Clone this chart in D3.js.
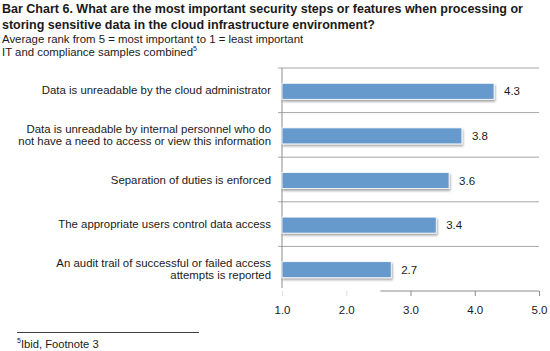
<!DOCTYPE html>
<html>
<head>
<meta charset="utf-8">
<script src="https://cdn.jsdelivr.net/npm/d3@7"></script>
<style>
  body { margin: 0; background: #fff; }
  svg { display: block; font-family: "Liberation Sans", Arial, sans-serif; }
  .title { font-size: 12.5px; font-weight: bold; fill: #1a1a1a; }
  .sub { font-size: 11.4px; fill: #1a1a1a; }
  .cat { font-size: 11.4px; fill: #1a1a1a; }
  .val { font-size: 11.5px; fill: #1a1a1a; }
  .tick text { font-size: 11.5px; fill: #1a1a1a; }
</style>
</head>
<body>
<div id="chart"></div>
<script>
const categories = [
  ['Data is unreadable by the cloud administrator'],
  ['Data is unreadable by internal personnel who do', 'not have a need to access or view this information'],
  ['Separation of duties is enforced'],
  ['The appropriate users control data access'],
  ['An audit trail of successful or failed access', 'attempts is reported']
]
const values = [4.3, 3.8, 3.6, 3.4, 2.7]
const xTicks = [1, 2, 3, 4, 5]

const width = 550, height = 351
const margin = {top: 68, left: 282, right: 11, bottom: 60}

const svg = d3.select('#chart').append('svg')
  .attr('width', width)
  .attr('height', height)

// titles
const titleLines = [
  'Bar Chart 6. What are the most important security steps or features when processing or',
  'storing sensitive data in the cloud infrastructure environment?'
]
svg.selectAll('.title').data(titleLines).join('text')
  .attr('class', 'title')
  .attr('x', 2)
  .attr('y', (_, i) => 13 + 16 * i)
  .text(d => d)

svg.append('text').attr('class', 'sub').attr('x', 2).attr('y', 43)
  .text('Average rank from 5 = most important to 1 = least important')
const sub2 = svg.append('text').attr('class', 'sub').attr('x', 2).attr('y', 56)
sub2.append('tspan').text('IT and compliance samples combined')
sub2.append('tspan').attr('dy', -5).style('font-size', '7px').text('5')

const innerW = width - margin.left - margin.right
const innerH = 291 - margin.top

const xScale = d3.scaleLinear().domain([1, 5]).range([0, innerW])
const yScale = d3.scaleBand().domain(d3.range(values.length)).range([0, innerH])

const defs = svg.append('defs')
const f = defs.append('filter').attr('id', 'shadow')
  .attr('x', '-5%').attr('y', '-30%').attr('width', '115%').attr('height', '170%')
f.append('feDropShadow').attr('dx', 1).attr('dy', 2).attr('stdDeviation', 1)
  .attr('flood-color', '#000').attr('flood-opacity', 0.35)

const g = svg.append('g').attr('transform', `translate(${margin.left},${margin.top})`)

// gridlines at band boundaries
g.selectAll('.grid').data(d3.range(values.length)).join('line')
  .attr('class', 'grid')
  .attr('x1', -4).attr('x2', innerW)
  .attr('y1', d => yScale(d)).attr('y2', d => yScale(d))
  .attr('stroke', '#a6a6a6').attr('stroke-width', 1)

// vertical axis
g.append('line')
  .attr('x1', 0).attr('x2', 0).attr('y1', 0).attr('y2', innerH - 3)
  .attr('stroke', '#8c8c8c').attr('stroke-width', 1)

// bottom axis
const xAxis = d3.axisBottom(xScale)
  .tickValues(xTicks)
  .tickSize(5)
  .tickPadding(10)
  .tickFormat(d3.format('.1f'))
const xAxisG = g.append('g').attr('transform', `translate(0,${innerH})`).call(xAxis)
xAxisG.select('.domain').remove()
xAxisG.selectAll('.tick line')
  .attr('stroke', d => d < 3 ? '#e0e0e0' : '#8c8c8c')
xAxisG.append('line')
  .attr('x1', xScale(2.53)).attr('x2', innerW)
  .attr('stroke', '#8c8c8c')
xAxisG.selectAll('.tick text').attr('fill', '#1a1a1a')

// bars
const barH = 16
g.selectAll('.bar').data(values).join('rect')
  .attr('class', 'bar')
  .attr('x', 0)
  .attr('y', (_, i) => yScale(i) + yScale.bandwidth() / 2 - barH / 2 + 1)
  .attr('width', d => xScale(d))
  .attr('height', barH)
  .attr('fill', '#6699cc')
  .attr('stroke', '#ffffff')
  .attr('stroke-width', 0.8)
  .attr('filter', 'url(#shadow)')

// value labels
g.selectAll('.val').data(values).join('text')
  .attr('class', 'val')
  .attr('x', d => xScale(d) + 10)
  .attr('y', (_, i) => yScale(i) + yScale.bandwidth() / 2 + 5)
  .text(d => d.toFixed(1))

// category labels
const catG = g.selectAll('.catg').data(categories).join('text')
  .attr('class', 'cat')
  .attr('text-anchor', 'end')
  .attr('x', -11)
  .attr('y', (d, i) => yScale(i) + yScale.bandwidth() / 2 + 4 - (d.length - 1) * 6)
catG.selectAll('tspan').data(d => d).join('tspan')
  .attr('x', -11)
  .attr('dy', (_, j) => j === 0 ? 0 : 12)
  .text(d => d)

// footnote
svg.append('line')
  .attr('x1', 17).attr('x2', 199).attr('y1', 332.5).attr('y2', 332.5)
  .attr('stroke', '#404040').attr('stroke-width', 1)
const fn = svg.append('text').attr('class', 'sub').attr('x', 17).attr('y', 348)
  .style('font-size', '11.2px')
fn.append('tspan').attr('dy', -5).style('font-size', '7px').text('5')
fn.append('tspan').attr('dy', 5).text('Ibid, Footnote 3')
</script>
</body>
</html>
